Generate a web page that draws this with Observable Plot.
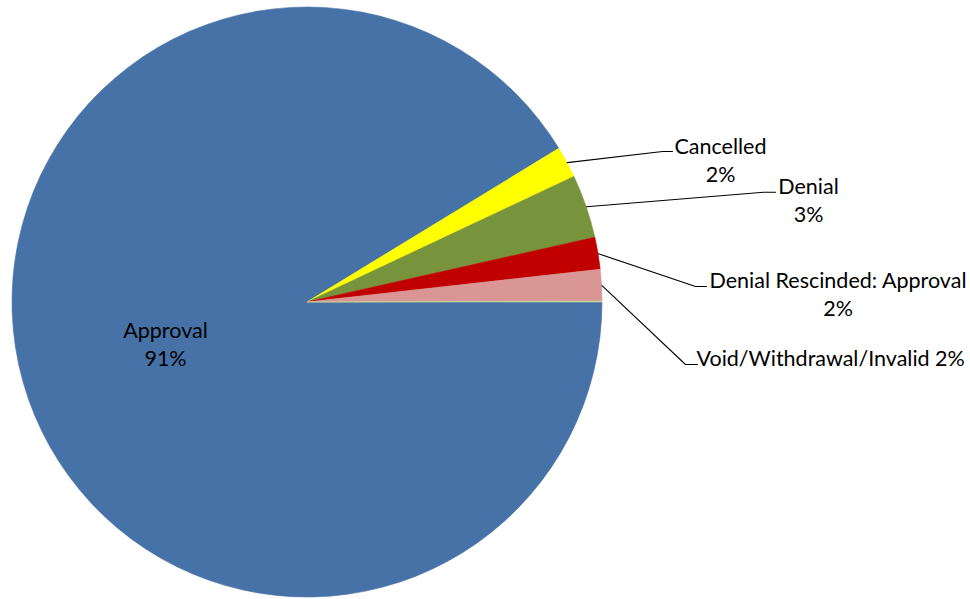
<!DOCTYPE html>
<html><head><meta charset="utf-8">
<script src="https://cdn.jsdelivr.net/npm/d3@7"></script>
<script src="https://cdn.jsdelivr.net/npm/@observablehq/plot@0.6"></script>
<style>body{margin:0;background:#fff} svg{display:block}</style>
</head><body><div id="chart"></div>
<script>
// ---- data ----
const categories = ["Approval", "Cancelled", "Denial", "Denial Rescinded: Approval", "Void/Withdrawal/Invalid", "Other"];
const values = [91.28, 1.72, 3.48, 1.75, 1.72, 0.05];
const colors = ["#4672a8", "#ffff00", "#77933c", "#c00000", "#d99694", "#c3d69b"];
const showLabel = [true, true, true, true, true, false];

// ---- layout (pixels) ----
const center = [307, 302], radius = 295;
const labelX = [165, 720, 808, 837.5, 696, null];
const labelY = [343, 159, 199, 292.5, 358.5, null];
const labelInline = [false, false, false, false, true, false];
const kneeX = [null, 662, 763, 695, 685, null];
const kneeY = [null, 151, 191.7, 286, 364, null];
const endX = [null, 672, 775, 706, 697, null];

const total = d3.sum(values);
const pie = d3.pie().sort(null).value(d => d.value)
  .startAngle(Math.PI / 2).endAngle(Math.PI / 2 + 2 * Math.PI);
const rows = categories.map((name, i) => ({name, value: values[i], i}));
const arcs = pie(rows);

const labels = rows.filter(d => showLabel[d.i]).map(d => {
  const pct = Math.round(d.value / total * 100) + "%";
  return {x: labelX[d.i], y: labelY[d.i], inline: labelInline[d.i],
    text: d.name + (labelInline[d.i] ? " " : "\n") + pct};
});

const leaders = [];
arcs.forEach(a => {
  const i = a.data.i;
  if (kneeX[i] == null) return;
  const m = (a.startAngle + a.endAngle) / 2;
  leaders.push({k: i, x: center[0] + radius * Math.sin(m), y: center[1] - radius * Math.cos(m)});
  leaders.push({k: i, x: kneeX[i], y: kneeY[i]});
  leaders.push({k: i, x: endX[i], y: kneeY[i]});
});

function pieMark(index, scales, vals, dims, context) {
  const cx = scales.x(center[0]), cy = scales.y(center[1]);
  const r = scales.x(center[0] + radius) - cx;
  const arc = d3.arc().innerRadius(0).outerRadius(r);
  const g = d3.create("svg:g").attr("transform", `translate(${cx},${cy})`);
  g.selectAll("path").data(arcs).join("path")
    .attr("d", arc)
    .attr("fill", d => colors[d.data.i])
    .attr("stroke", d => colors[d.data.i])
    .attr("stroke-width", 0.6);
  return g.node();
}

const chart = Plot.plot({
  width: 970, height: 599, margin: 0,
  x: {domain: [0, 970], range: [0, 970], axis: null},
  y: {domain: [0, 599], range: [0, 599], axis: null},
  style: {fontFamily: "Lato, sans-serif", background: "#fff"},
  marks: [
    pieMark,
    Plot.line(leaders, {x: "x", y: "y", z: "k", stroke: "#000", strokeWidth: 1.1}),
    Plot.text(labels.filter(d => !d.inline), {x: "x", y: "y", text: "text", textAnchor: "middle",
      lineAnchor: "middle", lineHeight: 1.3, fontSize: 21.5, fill: "#000"}),
    Plot.text(labels.filter(d => d.inline), {x: "x", y: "y", text: "text", textAnchor: "start",
      lineAnchor: "middle", fontSize: 21.5, fill: "#000"})
  ]
});
document.getElementById("chart").append(chart);
</script>
</body></html>
